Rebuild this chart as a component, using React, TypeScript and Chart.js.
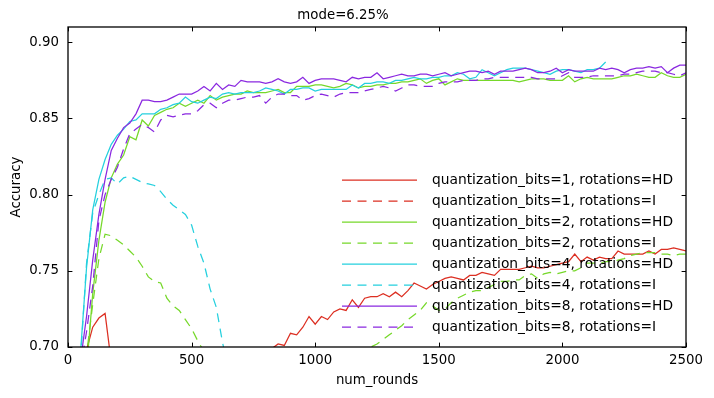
import React, { useEffect, useRef } from 'react';
import { Chart, registerables } from 'chart.js';

Chart.register(...registerables);

const TITLE = 'mode=6.25%';
const X_TITLE = 'num_rounds';
const Y_TITLE = 'Accuracy';

const ROUNDS = [
  25, 50, 75, 100, 125, 150, 175, 200, 225, 250,
  275, 300, 325, 350, 375, 400, 425, 450, 475, 500,
  525, 550, 575, 600, 625, 650, 675, 700, 725, 750,
  775, 800, 825, 850, 875, 900, 925, 950, 975, 1000,
  1025, 1050, 1075, 1100, 1125, 1150, 1175, 1200, 1225, 1250,
  1275, 1300, 1325, 1350, 1375, 1400, 1425, 1450, 1475, 1500,
  1525, 1550, 1575, 1600, 1625, 1650, 1675, 1700, 1725, 1750,
  1775, 1800, 1825, 1850, 1875, 1900, 1925, 1950, 1975, 2000,
  2025, 2050, 2075, 2100, 2125, 2150, 2175, 2200, 2225, 2250,
  2275, 2300, 2325, 2350, 2375, 2400, 2425, 2450, 2475, 2500,
];

const X_TICKS = [0, 500, 1000, 1500, 2000, 2500];
const Y_TICKS = [0.7, 0.75, 0.8, 0.85, 0.9];

const LABELS = [
  'quantization_bits=1, rotations=HD',
  'quantization_bits=1, rotations=I',
  'quantization_bits=2, rotations=HD',
  'quantization_bits=2, rotations=I',
  'quantization_bits=4, rotations=HD',
  'quantization_bits=4, rotations=I',
  'quantization_bits=8, rotations=HD',
  'quantization_bits=8, rotations=I',
];

const COLORS = ['#dc2f22', '#dc2f22', '#76d82a', '#76d82a', '#25d0de', '#25d0de', '#8a28e0', '#8a28e0'];
const DASHED = [false, true, false, true, false, true, false, true];

const N = null;

const BITS1_HD = [
  N, 0.62, 0.698, 0.713, 0.719, 0.722, 0.69, 0.66, N, N,
  N, N, N, N, N, N, N, N, N, N,
  N, N, N, N, N, N, N, N, N, N,
  N, 0.68, 0.699, 0.702, 0.701, 0.709, 0.708, 0.713, 0.72, 0.715,
  0.72, 0.718, 0.723, 0.725, 0.724, 0.731, 0.726, 0.732, 0.733, 0.733,
  0.735, 0.733, 0.736, 0.733, 0.737, 0.742, 0.74, 0.738, 0.741, 0.743,
  0.745, 0.746, 0.745, 0.744, 0.747, 0.747, 0.749, 0.748, 0.747, 0.751,
  0.751, 0.751, 0.751, 0.752, 0.753, 0.752, 0.752, 0.753, 0.754, 0.755,
  0.756, 0.761, 0.756, 0.759, 0.757, 0.759, 0.758, 0.758, 0.763, 0.761,
  0.761, 0.761, 0.761, 0.763, 0.761, 0.764, 0.764, 0.765, 0.764, 0.763,
];

const BITS1_I = [
  0.32, 0.41, 0.47, 0.51, 0.53, 0.55, 0.55, 0.56, 0.57, 0.57,
  0.58, 0.58, 0.59, 0.59, 0.59, 0.6, 0.6, 0.6, 0.61, 0.61,
  0.61, 0.61, 0.62, 0.62, 0.62, 0.62, 0.62, 0.63, 0.63, 0.63,
  0.63, 0.63, 0.63, 0.64, 0.64, 0.64, 0.64, 0.64, 0.64, 0.64,
  0.65, 0.65, 0.65, 0.65, 0.65, 0.65, 0.65, 0.65, 0.65, 0.66,
  0.66, 0.66, 0.66, 0.66, 0.66, 0.66, 0.66, 0.66, 0.66, 0.67,
  0.67, 0.67, 0.67, 0.67, 0.67, 0.67, 0.67, 0.67, 0.67, 0.67,
  0.67, 0.67, 0.68, 0.68, 0.68, 0.68, 0.68, 0.68, 0.68, 0.68,
  0.68, 0.68, 0.68, 0.68, 0.68, 0.68, 0.68, 0.68, 0.68, 0.68,
  0.69, 0.69, 0.69, 0.69, 0.69, 0.69, 0.69, 0.69, 0.69, 0.69,
];

const BITS2_HD = [
  N, 0.64, 0.685, 0.735, 0.77, 0.795, 0.811, 0.82, 0.826, 0.838,
  0.836, 0.849, 0.845, 0.852, 0.854, 0.856, 0.857, 0.86, 0.858, 0.86,
  0.862, 0.86, 0.865, 0.862, 0.864, 0.865, 0.866, 0.866, 0.868, 0.867,
  0.867, 0.867, 0.868, 0.869, 0.867, 0.867, 0.871, 0.871, 0.871, 0.872,
  0.872, 0.871, 0.87, 0.871, 0.873, 0.872, 0.87, 0.871, 0.871, 0.872,
  0.872, 0.873, 0.873, 0.874, 0.874, 0.875, 0.876, 0.873, 0.875, 0.876,
  0.872, 0.874, 0.876, 0.875, 0.875, 0.875, 0.875, 0.875, 0.875, 0.875,
  0.875, 0.875, 0.874, 0.875, 0.876, 0.876, 0.876, 0.875, 0.875, 0.875,
  0.878, 0.874, 0.876, 0.877, 0.876, 0.876, 0.876, 0.876, 0.877, 0.878,
  0.878, 0.879, 0.878, 0.877, 0.877, 0.88, 0.878, 0.877, 0.877, 0.879,
];

const BITS2_I = [
  0.6, 0.64, 0.695, 0.728, 0.758, 0.774, 0.773, 0.77, 0.767, 0.763,
  0.759, 0.753, 0.746, 0.743, 0.742, 0.732, 0.727, 0.724, 0.718, 0.712,
  0.704, 0.697, 0.69, N, N, N, N, N, N, N,
  N, N, N, N, N, N, N, N, N, N,
  N, N, N, N, N, N, 0.695, 0.698, 0.7, 0.702,
  0.705, 0.708, 0.711, 0.714, 0.718, 0.721, 0.724, 0.729, 0.727, 0.724,
  0.725, 0.729, 0.732, 0.734, 0.736, 0.737, 0.737, 0.739, 0.741, 0.743,
  0.743, 0.744, 0.744, 0.747, 0.748, 0.745, 0.748, 0.749, 0.748, 0.749,
  0.75, 0.75, 0.752, 0.755, 0.755, 0.755, 0.756, 0.756, 0.757, 0.758,
  0.76, 0.761, 0.762, 0.762, 0.762, 0.761, 0.761, 0.76, 0.761, 0.761,
];

const BITS4_HD = [
  N, 0.695, 0.752, 0.79, 0.81, 0.823, 0.833, 0.839, 0.843, 0.848,
  0.849, 0.853, 0.853, 0.853, 0.856, 0.857, 0.859, 0.86, 0.864, 0.861,
  0.86, 0.862, 0.864, 0.863, 0.866, 0.867, 0.866, 0.867, 0.867, 0.867,
  0.868, 0.87, 0.869, 0.868, 0.866, 0.869, 0.869, 0.87, 0.87, 0.868,
  0.869, 0.869, 0.869, 0.869, 0.869, 0.872, 0.87, 0.873, 0.873, 0.874,
  0.874, 0.873, 0.875, 0.875, 0.876, 0.877, 0.876, 0.876, 0.877, 0.877,
  0.878, 0.878, 0.88, 0.879, 0.876, 0.877, 0.882, 0.88, 0.878, 0.88,
  0.882, 0.883, 0.883, 0.883, 0.882, 0.881, 0.88, 0.879, 0.881, 0.882,
  0.882, 0.881, 0.88, 0.882, 0.882, 0.883, 0.887, N, N, N,
  N, N, N, N, N, N, N, N, N, N,
];

const BITS4_I = [
  0.62, 0.69, 0.755, 0.788, 0.8, 0.81, 0.811, 0.807, 0.811, 0.812,
  0.81, 0.808, 0.807, 0.806, 0.802, 0.797, 0.793, 0.79, 0.787, 0.78,
  0.766, 0.755, 0.738, 0.726, 0.703, 0.685, N, N, N, N,
  N, N, N, N, N, N, N, N, N, N,
  N, N, N, N, N, N, N, N, N, N,
  N, N, N, N, N, N, N, N, N, N,
  N, N, N, N, N, N, N, N, N, N,
  N, N, N, N, N, N, N, N, N, N,
  N, N, N, N, N, N, N, N, N, N,
  N, N, N, N, N, N, N, N, N, N,
];

const BITS8_HD = [
  N, 0.69, 0.72, 0.757, 0.787, 0.81, 0.829, 0.837, 0.844, 0.847,
  0.853, 0.862, 0.862, 0.861, 0.861, 0.862, 0.864, 0.866, 0.866, 0.866,
  0.868, 0.871, 0.868, 0.873, 0.869, 0.872, 0.871, 0.875, 0.874, 0.874,
  0.874, 0.873, 0.874, 0.876, 0.874, 0.873, 0.874, 0.877, 0.873, 0.875,
  0.876, 0.876, 0.876, 0.875, 0.874, 0.877, 0.876, 0.877, 0.877, 0.88,
  0.876, 0.877, 0.878, 0.879, 0.878, 0.878, 0.879, 0.879, 0.878, 0.879,
  0.88, 0.878, 0.879, 0.88, 0.881, 0.881, 0.88, 0.881, 0.879, 0.881,
  0.881, 0.881, 0.882, 0.883, 0.882, 0.88, 0.88, 0.881, 0.883, 0.88,
  0.882, 0.881, 0.881, 0.881, 0.881, 0.883, 0.882, 0.883, 0.882, 0.88,
  0.882, 0.883, 0.883, 0.884, 0.883, 0.884, 0.88, 0.883, 0.885, 0.885,
];

const BITS8_I = [
  N, 0.685, 0.71, 0.74, 0.783, 0.8, 0.81, 0.818, 0.83, 0.84,
  0.843, 0.846, 0.844, 0.841, 0.849, 0.852, 0.851, 0.852, 0.853, 0.853,
  0.855, 0.859, 0.86, 0.857, 0.86, 0.862, 0.862, 0.863, 0.864, 0.864,
  0.865, 0.86, 0.864, 0.866, 0.866, 0.865, 0.865, 0.862, 0.863, 0.865,
  0.866, 0.865, 0.864, 0.866, 0.867, 0.867, 0.867, 0.868, 0.869, 0.87,
  0.871, 0.87, 0.868, 0.87, 0.872, 0.872, 0.871, 0.871, 0.871, 0.873,
  0.874, 0.874, 0.874, 0.875, 0.875, 0.875, 0.876, 0.876, 0.877, 0.877,
  0.877, 0.877, 0.877, 0.877, 0.877, 0.876, 0.876, 0.876, 0.876, 0.878,
  0.88, 0.877, 0.877, 0.877, 0.878, 0.878, 0.878, 0.878, 0.878, 0.879,
  0.879, 0.88, 0.881, 0.881, 0.881, 0.88, 0.88, 0.879, 0.878, 0.88,
];

const SERIES = [BITS1_HD, BITS1_I, BITS2_HD, BITS2_I, BITS4_HD, BITS4_I, BITS8_HD, BITS8_I];

const FONT_FAMILY = '"DejaVu Sans", sans-serif';
const FONT_SIZE = 13.33;
const LEGEND_FONT_SIZE = 13.8;

const framePlugin = {
  id: 'mplFrame',
  afterDatasetsDraw(chart: any) {
    const { ctx, chartArea, scales } = chart;
    const { left, right, top, bottom } = chartArea;
    const tick = 4.4;
    ctx.save();
    ctx.strokeStyle = '#000';
    ctx.lineWidth = 1;
    ctx.beginPath();
    X_TICKS.forEach((v) => {
      const px = Math.round(scales.x.getPixelForValue(v)) + 0.5;
      ctx.moveTo(px, bottom);
      ctx.lineTo(px, bottom - tick);
      ctx.moveTo(px, top);
      ctx.lineTo(px, top + tick);
    });
    Y_TICKS.forEach((v) => {
      const py = Math.round(scales.y.getPixelForValue(v)) + 0.5;
      ctx.moveTo(left, py);
      ctx.lineTo(left + tick, py);
      ctx.moveTo(right, py);
      ctx.lineTo(right - tick, py);
    });
    ctx.stroke();
    ctx.lineWidth = 1.3;
    ctx.strokeRect(left, top, right - left, bottom - top);
    ctx.restore();
  },
};

const legendPlugin = {
  id: 'innerLegend',
  afterDraw(chart: any) {
    const { ctx, chartArea } = chart;
    const datasets = chart.data.datasets;
    const n = datasets.length;
    ctx.save();
    ctx.font = `${LEGEND_FONT_SIZE}px ${FONT_FAMILY}`;
    ctx.textBaseline = 'middle';
    ctx.textAlign = 'left';
    datasets.forEach((ds: any, i: number) => {
      const yy = chartArea.bottom - 20 - 21 * (n - 1 - i);
      const x0 = chartArea.left + 274;
      ctx.strokeStyle = ds.borderColor;
      ctx.lineWidth = ds.borderWidth;
      ctx.setLineDash(ds.borderDash || []);
      ctx.beginPath();
      ctx.moveTo(x0, yy);
      ctx.lineTo(x0 + 75, yy);
      ctx.stroke();
      ctx.setLineDash([]);
      ctx.fillStyle = '#000';
      ctx.fillText(ds.label, x0 + 90, yy);
    });
    ctx.restore();
  },
};

export default function App() {
  const canvasRef = useRef<HTMLCanvasElement | null>(null);

  useEffect(() => {
    const canvas = canvasRef.current;
    if (!canvas) return;
    Chart.defaults.font.family = FONT_FAMILY;
    Chart.defaults.font.size = FONT_SIZE;
    Chart.defaults.color = '#000';

    const datasets = SERIES.map((values, i) => ({
      label: LABELS[i],
      data: ROUNDS.map((r, k) => ({ x: r, y: values[k] })),
      borderColor: COLORS[i],
      backgroundColor: COLORS[i],
      borderWidth: 1.25,
      borderDash: DASHED[i] ? [9, 6.5] : [],
      pointRadius: 0,
      pointHoverRadius: 0,
      tension: 0,
      fill: false,
      spanGaps: false,
      order: SERIES.length - i,
    }));

    const chart = new Chart(canvas, {
      type: 'line',
      data: { datasets },
      options: {
        animation: false,
        responsive: false,
        maintainAspectRatio: false,
        layout: { padding: { left: 0, right: 28, top: 0, bottom: 0 } },
        plugins: {
          legend: { display: false },
          tooltip: { enabled: false },
          title: {
            display: true,
            text: TITLE,
            color: '#000',
            font: { size: FONT_SIZE, weight: 'normal', family: FONT_FAMILY, lineHeight: 1.2 },
            padding: { top: 8, bottom: 3 },
          },
        },
        scales: {
          x: {
            type: 'linear',
            min: 0,
            max: 2500,
            grid: { display: false, drawTicks: false },
            border: { display: false },
            ticks: {
              stepSize: 500,
              padding: 6,
              color: '#000',
              font: { size: FONT_SIZE, family: FONT_FAMILY, lineHeight: 1.2 },
              callback: (v: any) => String(v),
              maxRotation: 0,
            },
            title: {
              display: true,
              text: X_TITLE,
              color: '#000',
              font: { size: FONT_SIZE, family: FONT_FAMILY, lineHeight: 1.2 },
              padding: { top: 0, bottom: 9 },
            },
            afterFit: (scale: any) => {
              scale.height = 51;
            },
          },
          y: {
            type: 'linear',
            min: 0.7,
            max: 0.91,
            grid: { display: false, drawTicks: false },
            border: { display: false },
            ticks: {
              stepSize: 0.05,
              includeBounds: false,
              padding: 9,
              color: '#000',
              font: { size: FONT_SIZE, family: FONT_FAMILY, lineHeight: 1.2 },
              callback: (v: any) => Number(v).toFixed(2),
            },
            title: {
              display: true,
              text: Y_TITLE,
              color: '#000',
              font: { size: FONT_SIZE, family: FONT_FAMILY, lineHeight: 1.2 },
              padding: { top: 9, bottom: 0 },
            },
            afterFit: (scale: any) => {
              scale.width = 68;
            },
          },
        },
      },
      plugins: [framePlugin, legendPlugin],
    } as any);

    return () => {
      chart.destroy();
    };
  }, []);

  return (
    <div style={{ position: 'fixed', left: 0, top: 0, width: 714, height: 398, background: '#fff' }}>
      <canvas ref={canvasRef} width={714} height={398} style={{ display: 'block', width: 714, height: 398 }} />
    </div>
  );
}
